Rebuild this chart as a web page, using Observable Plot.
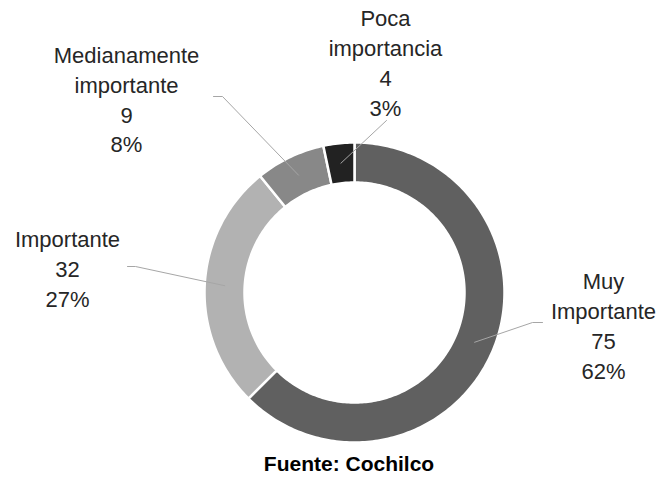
<!DOCTYPE html>
<html><head><meta charset="utf-8">
<script src="https://cdn.jsdelivr.net/npm/d3@7"></script>
<script src="https://cdn.jsdelivr.net/npm/@observablehq/plot@0.6"></script>
<style>
body{margin:0;background:#fff;font-family:"Liberation Sans",Arial,sans-serif}
#footer{width:658px;height:35px;line-height:35px;box-sizing:border-box;padding-left:40px;text-align:center;font-weight:bold;font-size:21px;color:#000}
</style></head>
<body><div id="chart"></div><div id="footer"></div>
<script>
// ---- data ----
const categories = ["Muy Importante", "Importante", "Medianamente importante", "Poca importancia"];
const labelLines = [["Muy", "Importante"], ["Importante"], ["Medianamente", "importante"], ["Poca", "importancia"]];
const values = [75, 32, 9, 4];
const percentLabels = ["62%", "27%", "8%", "3%"];
const colors = ["#606060", "#b2b2b2", "#888888", "#222222"];
const sourceText = "Fuente: Cochilco";

// ---- layout ----
const W = 658, H = 446;
const cx = 354, cy = 292, rOuter = 150, rInner = 110, leaderR = 130;
const labelPos = [{x: 603, y: 324}, {x: 67, y: 267}, {x: 126, y: 97.5}, {x: 385, y: 61}];
const leaderOuter = [
  [[542, 322], [532, 322]],
  [[127, 266], [135, 266]],
  [[213, 96], [222, 96]],
  [[386, 120]]
];

const total = d3.sum(values);
const polar = (a, r) => ({x: cx + r * Math.sin(a), y: cy - r * Math.cos(a)});

const slicePts = [];
const leaderPts = [];
let acc = 0;
values.forEach((v, i) => {
  const a0 = acc / total * 2 * Math.PI;
  acc += v;
  const a1 = acc / total * 2 * Math.PI;
  const n = Math.max(6, Math.ceil((a1 - a0) / (Math.PI / 180)));
  for (let k = 0; k <= n; k++) {
    const p = polar(a0 + (a1 - a0) * k / n, rOuter);
    slicePts.push({key: categories[i], color: colors[i], ...p});
  }
  for (let k = n; k >= 0; k--) {
    const p = polar(a0 + (a1 - a0) * k / n, rInner);
    slicePts.push({key: categories[i], color: colors[i], ...p});
  }
  const mid = (a0 + a1) / 2;
  leaderOuter[i].forEach(([x, y]) => leaderPts.push({key: categories[i], x, y}));
  leaderPts.push({key: categories[i], ...polar(mid, leaderR)});
});

const labels = categories.map((c, i) => ({
  x: labelPos[i].x, y: labelPos[i].y,
  text: [...labelLines[i], String(values[i]), percentLabels[i]].join("\n")
}));

const chart = Plot.plot({
  width: W, height: H, margin: 0,
  style: {background: "#fff", fontFamily: "'Liberation Sans', Arial, sans-serif"},
  x: {domain: [0, W], range: [0, W], axis: null},
  y: {domain: [0, H], range: [0, H], axis: null},
  color: {type: "identity"},
  marks: [
    Plot.line(slicePts, {x: "x", y: "y", z: "key", fill: "color", stroke: "#fff", strokeWidth: 2.5, curve: "linear-closed"}),
    Plot.line(leaderPts, {x: "x", y: "y", z: "key", stroke: "#a6a6a6", strokeWidth: 1}),
    Plot.text(labels, {x: "x", y: "y", text: "text", fontSize: 22, lineHeight: 1.36, fill: "#262626", textAnchor: "middle"})
  ]
});
document.getElementById("chart").appendChild(chart);
document.getElementById("footer").textContent = sourceText;
</script>
</body></html>
